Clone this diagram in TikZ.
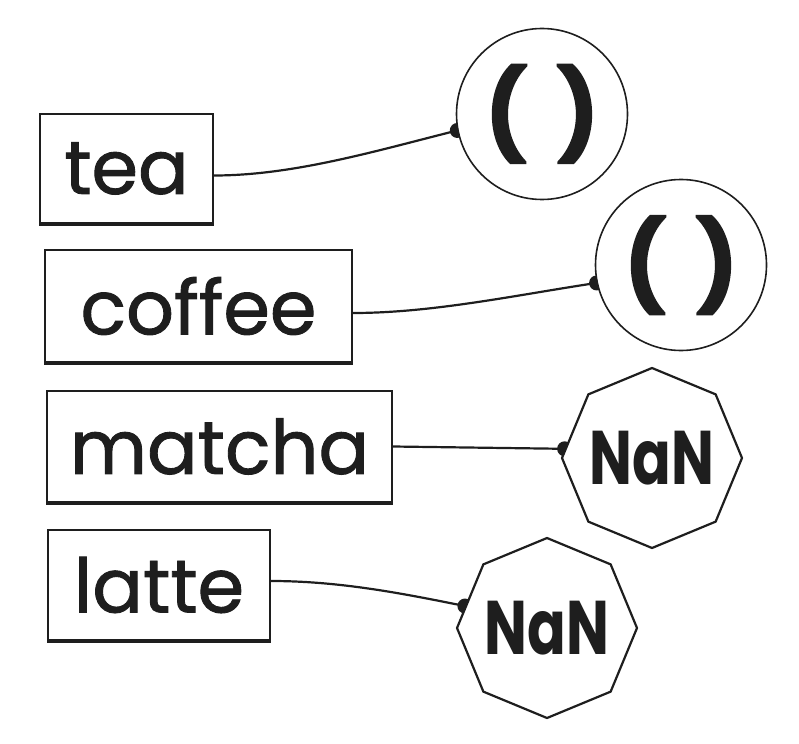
\documentclass[tikz,border=0pt]{standalone}
\usepackage{fontspec}
\setmainfont{Poppins}
\newfontfamily\labfont[UprightFeatures={FakeBold=1.2}]{Poppins}
\newfontfamily\nanfont[FakeStretch=0.75]{Poppins}
\newfontfamily\parfont[FakeBold=2]{Poppins}
\usetikzlibrary{shapes.geometric,calc,backgrounds}
\definecolor{ink}{HTML}{1E1E1E}
\tikzset{
  label box/.style={draw=ink, line width=2pt, fill=white, inner sep=0pt,
    text=ink, font=\labfont\fontsize{75}{80}\selectfont},
  round value/.style={circle, draw=ink, line width=1.6pt, fill=white, inner sep=0pt,
    minimum size=171pt, text=ink, font=\parfont\bfseries\fontsize{88}{90}\selectfont},
  oct value/.style={regular polygon, regular polygon sides=8, shape border rotate=22.5,
    draw=ink, line width=2.2pt, fill=white, inner sep=0pt, minimum size=180pt,
    text=ink, font=\nanfont\bfseries\fontsize{76}{80}\selectfont},
  link/.style={draw=ink, line width=2.2pt},
  enddot/.style={fill=ink, draw=none},
  shade edge/.style={draw=ink, line width=4pt}
}
\begin{document}
\begin{tikzpicture}[x=1pt, y=-1pt]
\useasboundingbox (0,0) rectangle (799,743);
% label boxes
\node[label box, minimum width=173pt, minimum height=109pt] (tea) at (126.5,168.5) {tea};
\node[label box, minimum width=307pt, minimum height=112pt] (coffee) at (198.5,306) {coffee};
\node[label box, minimum width=345pt, minimum height=111pt] (matcha) at (219.5,446.5) {matcha};
\node[label box, minimum width=222pt, minimum height=110pt] (latte) at (159,585) {latte};
\foreach \b in {tea,coffee,matcha,latte}{
  \draw[shade edge] (\b.south west) -- (\b.south east);
}
% value shapes
\node[round value] (c1) at (542,114) {(\hspace{30pt})};
\node[round value] (c2) at (681,265) {(\hspace{30pt})};
\node[oct value] (o1) at (652,458) {\makebox[0pt][c]{NaN}};
\node[oct value] (o2) at (547,628) {\makebox[0pt][c]{NaN}};
% connectors behind the shapes
\begin{scope}[on background layer]
  \coordinate (e1) at (c1.191);
  \coordinate (e2) at (c2.192);
  \coordinate (e3) at (o1.174);
  \coordinate (e4) at (o2.165);
  \draw[link] ($(tea.east)+(0,7)$) .. controls +(80,0) and +(-80,20) .. (e1);
  \draw[link] ($(coffee.east)+(0,7)$) .. controls +(80,0) and +(-80,12) .. (e2);
  \draw[link] (matcha.east) -- (e3);
  \draw[link] ($(latte.east)+(0,-4)$) .. controls +(70,0) and +(-60,-12) .. (e4);
  \foreach \e in {e1,e2,e3,e4}{
    \fill[enddot] (\e) circle[radius=7.5pt];
  }
\end{scope}
\end{tikzpicture}
\end{document}
